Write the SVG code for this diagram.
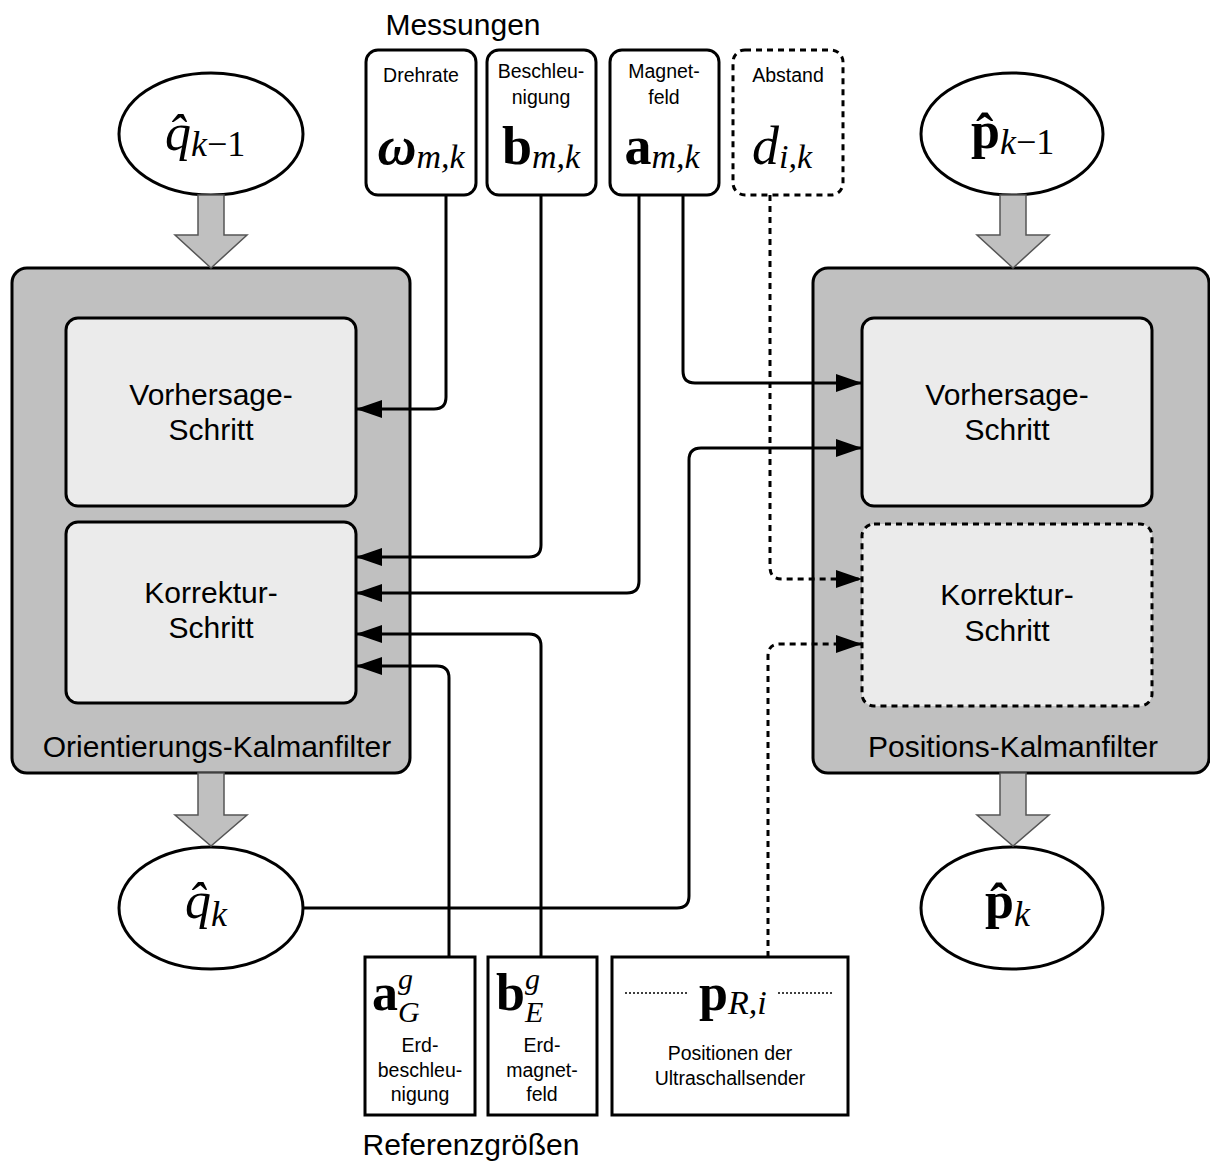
<svg xmlns="http://www.w3.org/2000/svg" width="1210" height="1162" viewBox="0 0 1210 1162">
  <style>
    .sans { font-family: "Liberation Sans", Arial, sans-serif; fill: #000; }
    .big { font-size: 30px; }
    .small { font-size: 19.5px; }
    .m { font-family: "Liberation Serif", "DejaVu Serif", serif; fill: #000; }
    .i { font-style: italic; }
    .b { font-weight: bold; }
    .filter { fill: #c0c0c0; stroke: #000; stroke-width: 3; }
    .step { fill: #ebebeb; stroke: #000; stroke-width: 3; }
    .box { fill: #fff; stroke: #000; stroke-width: 3; }
    .dash { stroke-dasharray: 6 5; }
    .state { fill: #fff; stroke: #000; stroke-width: 3; }
    .flow { fill: #c0c0c0; stroke: #555; stroke-width: 1.5; }
    .wire { fill: none; stroke: #000; stroke-width: 3; }
    .dotline { fill: none; stroke: #000; stroke-width: 1.5; stroke-dasharray: 2 2; }
  </style>
  <defs>
    <marker id="tip" markerUnits="userSpaceOnUse" viewBox="0 0 26 18" refX="26" refY="9" markerWidth="26" markerHeight="18" orient="auto">
      <path d="M0,0 L26,9 L0,18 Z" fill="#000"/>
    </marker>
  </defs>

  <rect width="1210" height="1162" fill="#fff"/>

  <!-- group labels -->
  <text class="sans big" x="463" y="35" text-anchor="middle">Messungen</text>
  <text class="sans big" x="471" y="1155" text-anchor="middle">Referenzgrößen</text>

  <!-- orientation filter -->
  <g id="orientierungs-kalmanfilter">
    <rect class="filter" x="12" y="268" width="398" height="505" rx="15"/>
    <text class="sans big" x="217" y="757" text-anchor="middle">Orientierungs-Kalmanfilter</text>
  </g>
  <g id="orient-vorhersage">
    <rect class="step" x="66" y="318" width="290" height="188" rx="12"/>
    <text class="sans big" x="211" y="405" text-anchor="middle">Vorhersage-</text>
    <text class="sans big" x="211" y="440" text-anchor="middle">Schritt</text>
  </g>
  <g id="orient-korrektur">
    <rect class="step" x="66" y="522" width="290" height="181" rx="12"/>
    <text class="sans big" x="211" y="603" text-anchor="middle">Korrektur-</text>
    <text class="sans big" x="211" y="638" text-anchor="middle">Schritt</text>
  </g>

  <!-- position filter -->
  <g id="positions-kalmanfilter">
    <rect class="filter" x="813" y="268" width="396" height="505" rx="15"/>
    <text class="sans big" x="1013" y="757" text-anchor="middle">Positions-Kalmanfilter</text>
  </g>
  <g id="pos-vorhersage">
    <rect class="step" x="862" y="318" width="290" height="188" rx="12"/>
    <text class="sans big" x="1007" y="405" text-anchor="middle">Vorhersage-</text>
    <text class="sans big" x="1007" y="440" text-anchor="middle">Schritt</text>
  </g>
  <g id="pos-korrektur">
    <rect class="step dash" x="862" y="524" width="290" height="182" rx="12"/>
    <text class="sans big" x="1007" y="605" text-anchor="middle">Korrektur-</text>
    <text class="sans big" x="1007" y="641" text-anchor="middle">Schritt</text>
  </g>

  <!-- state estimates: hat via combining circumflex -->
  <g id="q-prev">
    <ellipse class="state" cx="211" cy="134" rx="92" ry="61"/>
    <text class="m" x="165" y="150" font-size="52"><tspan class="i">q&#x302;</tspan><tspan font-size="36" dy="6"><tspan class="i">k</tspan>−1</tspan></text>
  </g>
  <g id="q-new">
    <ellipse class="state" cx="211" cy="908" rx="92" ry="61"/>
    <text class="m" x="185" y="918" font-size="52"><tspan class="i">q&#x302;</tspan><tspan class="i" font-size="36" dy="8">k</tspan></text>
  </g>
  <g id="p-prev">
    <ellipse class="state" cx="1012" cy="134" rx="91" ry="61"/>
    <text class="m" x="971" y="148" font-size="52"><tspan class="b">p&#x302;</tspan><tspan font-size="36" dy="6"><tspan class="i">k</tspan>−1</tspan></text>
  </g>
  <g id="p-new">
    <ellipse class="state" cx="1012" cy="908" rx="91" ry="61"/>
    <text class="m" x="985" y="918" font-size="52"><tspan class="b">p&#x302;</tspan><tspan class="i" font-size="36" dy="8">k</tspan></text>
  </g>

  <!-- wide flow arrows into and out of the filters -->
  <g id="flows">
    <polygon class="flow" points="198,195 224,195 224,235 247,235 211,268 175,235 198,235"/>
    <polygon class="flow" points="198,773 224,773 224,815 247,815 211,846 175,815 198,815"/>
    <polygon class="flow" points="1000,195 1026,195 1026,235 1049,235 1013,268 977,235 1000,235"/>
    <polygon class="flow" points="1000,773 1026,773 1026,815 1049,815 1013,846 977,815 1000,815"/>
  </g>

  <!-- measurements -->
  <g id="drehrate">
    <rect class="box" x="366" y="50" width="110" height="145" rx="12"/>
    <text class="sans small" x="421" y="82" text-anchor="middle">Drehrate</text>
    <text class="m" x="421" y="164" font-size="54" text-anchor="middle"><tspan class="b i">ω</tspan><tspan class="i" font-size="34" dy="4">m,k</tspan></text>
  </g>
  <g id="beschleunigung">
    <rect class="box" x="487" y="50" width="109" height="145" rx="12"/>
    <text class="sans small" x="541" y="78" text-anchor="middle">Beschleu-</text>
    <text class="sans small" x="541" y="104" text-anchor="middle">nigung</text>
    <text class="m" x="541" y="164" font-size="54" text-anchor="middle"><tspan class="b">b</tspan><tspan class="i" font-size="34" dy="4">m,k</tspan></text>
  </g>
  <g id="magnetfeld">
    <rect class="box" x="610" y="50" width="109" height="145" rx="12"/>
    <text class="sans small" x="664" y="78" text-anchor="middle">Magnet-</text>
    <text class="sans small" x="664" y="104" text-anchor="middle">feld</text>
    <text class="m" x="662" y="164" font-size="54" text-anchor="middle"><tspan class="b">a</tspan><tspan class="i" font-size="34" dy="4">m,k</tspan></text>
  </g>
  <g id="abstand">
    <rect class="box dash" x="733" y="50" width="110" height="145" rx="12"/>
    <text class="sans small" x="788" y="82" text-anchor="middle">Abstand</text>
    <text class="m" x="782" y="164" font-size="54" text-anchor="middle"><tspan class="i">d</tspan><tspan class="i" font-size="34" dy="4">i,k</tspan></text>
  </g>

  <!-- reference quantities -->
  <g id="erdbeschleunigung">
    <rect class="box" x="365" y="957" width="110" height="158"/>
    <text class="m" x="372" y="1010" font-size="52"><tspan class="b">a</tspan><tspan class="i" font-size="30" dy="-21">g</tspan><tspan class="i" font-size="30" dx="-15" dy="33">G</tspan></text>
    <text class="sans small" x="420" y="1052" text-anchor="middle">Erd-</text>
    <text class="sans small" x="420" y="1077" text-anchor="middle">beschleu-</text>
    <text class="sans small" x="420" y="1101" text-anchor="middle">nigung</text>
  </g>
  <g id="erdmagnetfeld">
    <rect class="box" x="488" y="957" width="109" height="158"/>
    <text class="m" x="496" y="1010" font-size="52"><tspan class="b">b</tspan><tspan class="i" font-size="30" dy="-21">g</tspan><tspan class="i" font-size="30" dx="-15" dy="33">E</tspan></text>
    <text class="sans small" x="542" y="1052" text-anchor="middle">Erd-</text>
    <text class="sans small" x="542" y="1077" text-anchor="middle">magnet-</text>
    <text class="sans small" x="542" y="1101" text-anchor="middle">feld</text>
  </g>
  <g id="senderpositionen">
    <rect class="box" x="612" y="957" width="236" height="158"/>
    <line class="dotline" x1="625" y1="993" x2="688" y2="993"/>
    <line class="dotline" x1="778" y1="993" x2="832" y2="993"/>
    <text class="m" x="699" y="1010" font-size="52"><tspan class="b">p</tspan><tspan class="i" font-size="34" dy="4">R,i</tspan></text>
    <text class="sans small" x="730" y="1060" text-anchor="middle">Positionen der</text>
    <text class="sans small" x="730" y="1085" text-anchor="middle">Ultraschallsender</text>
  </g>

  <!-- connectors -->
  <g id="connectors">
    <path class="wire" marker-end="url(#tip)" d="M446,195 V397 Q446,409 434,409 H356"/>
    <path class="wire" marker-end="url(#tip)" d="M541,195 V545 Q541,557 529,557 H356"/>
    <path class="wire" marker-end="url(#tip)" d="M639,195 V581 Q639,593 627,593 H356"/>
    <path class="wire" marker-end="url(#tip)" d="M683,195 V371 Q683,383 695,383 H862"/>
    <path class="wire" marker-end="url(#tip)" d="M303,908 H677 Q689,908 689,896 V460 Q689,448 701,448 H862"/>
    <path class="wire" marker-end="url(#tip)" d="M541,957 V646 Q541,634 529,634 H356"/>
    <path class="wire" marker-end="url(#tip)" d="M449,957 V678 Q449,666 437,666 H356"/>
    <path class="wire dash" marker-end="url(#tip)" d="M770,195 V567 Q770,579 782,579 H862"/>
    <path class="wire dash" marker-end="url(#tip)" d="M768,957 V656 Q768,644 780,644 H862"/>
  </g>
</svg>
